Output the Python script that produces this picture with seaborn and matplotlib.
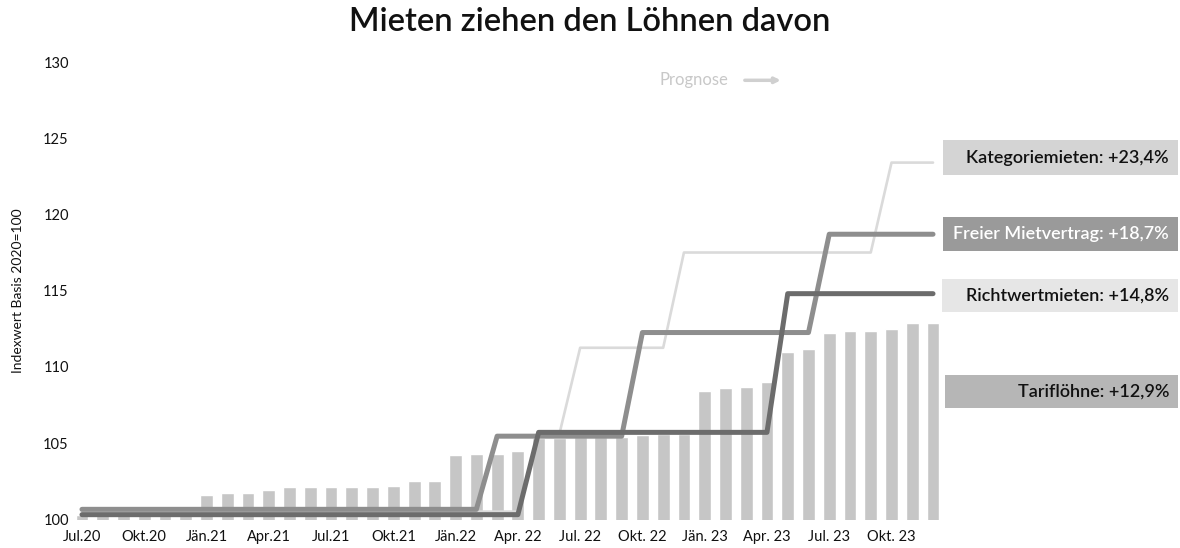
import matplotlib
matplotlib.use("Agg")
import matplotlib.pyplot as plt
from matplotlib.patches import Rectangle
import numpy as np
import pandas as pd
import seaborn as sns

# ------------------------------------------------------------
# Data
# ------------------------------------------------------------

months = [
    "Jul.20", "Aug.20", "Sep.20", "Okt.20", "Nov.20", "Dez.20",
    "Jän.21", "Feb.21", "Mär.21", "Apr.21", "Mai.21", "Jun.21",
    "Jul.21", "Aug.21", "Sep.21", "Okt.21", "Nov.21", "Dez.21",
    "Jän.22", "Feb.22", "Mär.22", "Apr.22", "Mai.22", "Jun.22",
    "Jul.22", "Aug.22", "Sep.22", "Okt.22", "Nov.22", "Dez.22",
    "Jän.23", "Feb.23", "Mär.23", "Apr.23", "Mai.23", "Jun.23",
    "Jul.23", "Aug.23", "Sep.23", "Okt.23", "Nov.23", "Dez.23",
]

tarifloehne = [
    100.3, 100.3, 100.3, 100.3, 100.3, 100.3,
    101.6, 101.7, 101.7, 101.9, 102.1, 102.1,
    102.1, 102.1, 102.1, 102.2, 102.5, 102.5,
    104.2, 104.3, 104.3, 104.5, 105.3, 105.3,
    105.4, 105.4, 105.4, 105.5, 105.6, 105.6,
    108.4, 108.6, 108.7, 109.0, 111.0, 111.2,
    112.25, 112.35, 112.35, 112.5, 112.85, 112.9,
]

kategoriemieten = [
    100.5, 100.5, 100.5, 100.5, 100.5, 100.5,
    100.5, 100.5, 100.5, 100.5, 100.5, 100.5,
    100.5, 100.5, 100.5, 100.5, 100.5, 100.5,
    100.5, 100.5, 100.5, 100.5, 105.6, 105.6,
    111.25, 111.25, 111.25, 111.25, 111.25, 117.5,
    117.5, 117.5, 117.5, 117.5, 117.5, 117.5,
    117.5, 117.5, 117.5, 123.4, 123.4, 123.4,
]

freier_mietvertrag = [
    100.65, 100.65, 100.65, 100.65, 100.65, 100.65,
    100.65, 100.65, 100.65, 100.65, 100.65, 100.65,
    100.65, 100.65, 100.65, 100.65, 100.65, 100.65,
    100.65, 100.65, 105.45, 105.45, 105.45, 105.45,
    105.45, 105.45, 105.45, 112.25, 112.25, 112.25,
    112.25, 112.25, 112.25, 112.25, 112.25, 112.25,
    118.7, 118.7, 118.7, 118.7, 118.7, 118.7,
]

richtwertmieten = [
    100.3, 100.3, 100.3, 100.3, 100.3, 100.3,
    100.3, 100.3, 100.3, 100.3, 100.3, 100.3,
    100.3, 100.3, 100.3, 100.3, 100.3, 100.3,
    100.3, 100.3, 100.3, 100.3, 105.7, 105.7,
    105.7, 105.7, 105.7, 105.7, 105.7, 105.7,
    105.7, 105.7, 105.7, 105.7, 114.8, 114.8,
    114.8, 114.8, 114.8, 114.8, 114.8, 114.8,
]

tick_labels = [
    "Jul.20", "Okt.20", "Jän.21", "Apr.21", "Jul.21", "Okt.21", "Jän.22",
    "Apr. 22", "Jul. 22", "Okt. 22", "Jän. 23", "Apr. 23", "Jul. 23", "Okt. 23",
]

y_ticks = [100, 105, 110, 115, 120, 125, 130]

label_texts = [
    "Kategoriemieten: +23,4%",
    "Freier Mietvertrag: +18,7%",
    "Richtwertmieten: +14,8%",
    "Tariflöhne: +12,9%",
]

# ------------------------------------------------------------
# Styling
# ------------------------------------------------------------

sns.set_theme(style="white")
plt.rcParams["font.family"] = ["Lato", "DejaVu Sans"]

FONT = "Lato"
BAR_COLOR = "#c6c6c6"
KAT_COLOR = "#dadada"
FREI_COLOR = "#8e8e8e"
RICHT_COLOR = "#6c6c6c"

df = pd.DataFrame({
    "Monat": months,
    "Tariflöhne": tarifloehne,
    "Kategoriemieten": kategoriemieten,
    "Freier Mietvertrag": freier_mietvertrag,
    "Richtwertmieten": richtwertmieten,
})
df["pos"] = np.arange(len(df))

W, H = 1180, 548
fig = plt.figure(figsize=(W / 100, H / 100), dpi=100)

# axes placed in pixel terms: x from 71.6 to 943.4, y from 520 to 62
ax = fig.add_axes([71.6 / W, 1 - 520 / H, (943.4 - 71.6) / W, (520 - 62) / H])

sns.barplot(
    data=df,
    x="Monat",
    y="Tariflöhne",
    color=BAR_COLOR,
    width=0.62,
    saturation=1,
    ax=ax,
    zorder=1,
)

sns.lineplot(data=df, x="pos", y="Kategoriemieten", color=KAT_COLOR,
             linewidth=1.9, ax=ax, zorder=3)
sns.lineplot(data=df, x="pos", y="Freier Mietvertrag", color=FREI_COLOR,
             linewidth=3.6, ax=ax, zorder=4)
sns.lineplot(data=df, x="pos", y="Richtwertmieten", color=RICHT_COLOR,
             linewidth=3.6, ax=ax, zorder=5)

ax.set_xlim(-0.5, len(months) - 0.5)
ax.set_ylim(99.95, 130)

ax.set_xticks(np.arange(0, len(months), 3))
ax.set_xticklabels(tick_labels, fontsize=10.5, family=FONT, color="#111111")
ax.set_yticks(y_ticks)
ax.set_yticklabels([str(v) for v in y_ticks], fontsize=10.5, family=FONT,
                   color="#111111")
ax.tick_params(axis="x", length=0, pad=7)
ax.tick_params(axis="y", length=0, pad=2)

ax.set_xlabel("")
ax.set_ylabel("Indexwert Basis 2020=100", fontsize=10, family=FONT,
              color="#111111", labelpad=14)
sns.despine(ax=ax, left=True, bottom=True)
ax.grid(False)

# Prognose hint
ax.text(27.8, 128.8, "Prognose", fontsize=12, family=FONT, color="#c8c8c8",
        ha="left", va="center")
ax.annotate("", xy=(33.8, 128.8), xytext=(31.8, 128.8),
            arrowprops=dict(arrowstyle="-|>", color="#d0d0d0", lw=2.5,
                            mutation_scale=8))

# Title
fig.text(0.5, 1 - 22 / H, "Mieten ziehen den Löhnen davon", ha="center",
         va="center", fontsize=23.5, family=FONT, color="#111111",
         fontweight="semibold")

# Label boxes on the right (pixel positions: x0, y_top, x1, y_bottom)
boxes = [
    (943, 140, 1178, 175, "#d4d4d4", "#111111"),
    (943, 217, 1178, 251, "#9a9a9a", "#ffffff"),
    (942, 279, 1178, 312, "#e6e6e6", "#111111"),
    (945, 375, 1178, 408, "#b6b6b6", "#111111"),
]

for (x0, y0, x1, y1, face, txt_color), text in zip(boxes, label_texts):
    fig.patches.append(Rectangle(
        (x0 / W, 1 - y1 / H), (x1 - x0) / W, (y1 - y0) / H,
        transform=fig.transFigure, facecolor=face, edgecolor="none",
    ))
    fig.text((x1 - 9) / W, 1 - (y0 + y1) / 2 / H, text, ha="right",
             va="center", fontsize=13, family=FONT, color=txt_color,
             fontweight="semibold")

fig.savefig("out.png", dpi=100, facecolor="white")
plt.close(fig)
